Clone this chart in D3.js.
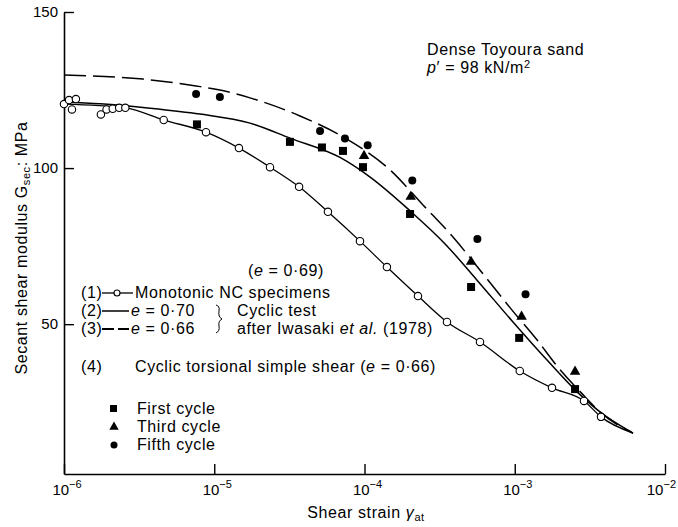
<!DOCTYPE html>
<html>
<head>
<meta charset="utf-8">
<script src="https://cdn.jsdelivr.net/npm/d3@7"></script>
<style>
  body { margin: 0; background: #fff; }
  svg text { font-family: "Liberation Sans", Arial, sans-serif; font-size: 16px; letter-spacing: 0.6px; fill: #000; }
  svg text.tk { font-size: 15px; letter-spacing: 0; }
</style>
</head>
<body>
<script>
// [shear strain, G_sec (MPa)]
const monotonicPts = [[1e-6,120.5],[1.08e-6,121.8],[1.2e-6,122.1],[1.13e-6,118.8],[1.76e-6,117.2],
  [1.92e-6,118.8],[2.11e-6,119.0],[2.33e-6,119.3],[2.56e-6,119.3],[4.61e-6,115.4],[8.81e-6,111.5],
  [1.46e-5,106.4],[2.35e-5,100.3],[3.67e-5,94.0],[5.71e-5,86.0],[9.33e-5,76.6],[1.41e-4,68.3],
  [2.27e-4,59.0],[3.54e-4,50.7],[5.87e-4,44.3],[1.08e-3,35.0],[1.77e-3,29.6],[2.89e-3,25.4],[3.75e-3,20.3]];
const monotonicCurve = [[1e-6,120.5],[2.56e-6,119.3],[4.61e-6,115.4],[8.81e-6,111.5],[1.46e-5,106.4],
  [2.35e-5,100.3],[3.67e-5,94.0],[5.71e-5,86.0],[9.33e-5,76.6],[1.41e-4,68.3],[2.27e-4,59.0],
  [3.54e-4,50.7],[5.87e-4,44.3],[1.08e-3,35.0],[1.77e-3,29.6],[2.89e-3,25.4],[3.75e-3,20.3],[6.12e-3,15.1]];
const cyclic070 = [[1e-6,121.2],[1.74e-6,120.6],[3.73e-6,119.2],[8.03e-6,117.3],[1.73e-5,114.4],
  [3.19e-5,109.6],[6.87e-5,103.4],[1.09e-4,97.1],[2.01e-4,86.3],[3.44e-4,75.7],[5.61e-4,64.1],
  [9.73e-4,50.7],[1.64e-3,38.5],[2.6e-3,28.3],[3.69e-3,21.9],[6.12e-3,15.1]];
const cyclic066 = [[1e-6,129.8],[3.36e-6,128.5],[7.57e-6,126.3],[1.09e-5,125.0],[1.73e-5,122.5],
  [3.72e-5,116.7],[7.19e-5,110.0],[1.48e-4,99.4],[2.45e-4,88.2],[3.88e-4,77.9],[6.15e-4,66.1],
  [9.59e-4,54.5],[1.41e-3,44.9],[1.91e-3,36.6],[2.94e-3,26.7],[3.69e-3,21.9],[6.12e-3,15.1]];
const firstCycle = [[7.67e-6,114.0],[3.19e-5,108.4],[5.21e-5,106.6],[7.19e-5,105.5],[9.77e-5,100.3],
  [2.01e-4,85.3],[5.12e-4,61.9],[1.07e-3,45.6],[2.52e-3,29.2]];
const thirdCycle = [[9.93e-5,103.9],[2.03e-4,90.8],[5.12e-4,70.0],[1.11e-3,52.4],[2.52e-3,34.8]];
const fifthCycle = [[7.57e-6,123.7],[1.09e-5,122.8],[5.06e-5,111.9],[7.41e-5,109.5],[1.05e-4,107.3],
  [2.08e-4,96.0],[5.64e-4,77.3],[1.18e-3,59.6]];

const xTicks = [1e-6, 1e-5, 1e-4, 1e-3, 1e-2];
const xTickExp = ["\u22126", "\u22125", "\u22124", "\u22123", "\u22122"];
const yTicks = [50, 100, 150];

const W = 678, H = 527;
const svg = d3.select("body").append("svg").attr("width", W).attr("height", H);

const x = d3.scaleLog().domain([1e-6, 1e-2]).range([64, 665]);
const y = d3.scaleLinear().domain([2, 150]).range([474, 12]);

// axes
svg.append("g").attr("transform", "translate(0,474)")
  .call(d3.axisBottom(x).tickValues(xTicks).tickSize(-10).tickSizeOuter(0).tickFormat(""));
const gy = svg.append("g").attr("transform", "translate(64,0)")
  .call(d3.axisLeft(y).tickValues(yTicks).tickSize(-10).tickSizeOuter(0).tickPadding(6));
gy.selectAll(".tick text").attr("class", "tk").attr("font-family", null).attr("font-size", null);
gy.attr("font-family", null).attr("font-size", null);
svg.selectAll(".domain").attr("stroke-width", 1.6);
svg.selectAll(".tick line").attr("stroke-width", 1.4);

xTicks.forEach((t, i) => {
  const last = i === xTicks.length - 1;
  const lab = svg.append("text").attr("class", "tk")
    .attr("x", last ? 676 : x(t) + 3).attr("y", 495).attr("text-anchor", last ? "end" : "middle");
  lab.append("tspan").text("10");
  lab.append("tspan").attr("dy", -7).style("font-size", "11px").text(xTickExp[i]);
});

// axis titles
const xt = svg.append("text").attr("x", 366).attr("y", 518).attr("text-anchor", "middle");
xt.append("tspan").text("Shear strain ");
xt.append("tspan").style("font-style", "italic").text("\u03b3");
xt.append("tspan").attr("dy", 3).style("font-size", "11px").text("at");

const yt = svg.append("text").attr("transform", "translate(27,248) rotate(-90)").attr("text-anchor", "middle");
yt.append("tspan").text("Secant shear modulus G");
yt.append("tspan").attr("dy", 3).style("font-size", "11px").text("sec");
yt.append("tspan").attr("dy", -3).text(": MPa");

// curves
const line = d3.line().x(d => x(d[0])).y(d => y(d[1])).curve(d3.curveMonotoneX);
svg.append("path").attr("d", line(monotonicCurve)).attr("fill", "none").attr("stroke", "#000").attr("stroke-width", 1.3);
svg.append("path").attr("d", line(cyclic070)).attr("fill", "none").attr("stroke", "#000").attr("stroke-width", 1.5);
svg.append("path").attr("d", line(cyclic066)).attr("fill", "none").attr("stroke", "#000").attr("stroke-width", 1.5)
  .attr("stroke-dasharray", "22,7");

// points
svg.append("g").selectAll("circle").data(monotonicPts).join("circle")
  .attr("cx", d => x(d[0])).attr("cy", d => y(d[1])).attr("r", 3.7)
  .attr("fill", "#fff").attr("stroke", "#000").attr("stroke-width", 1.1);
svg.append("g").selectAll("rect").data(firstCycle).join("rect")
  .attr("x", d => x(d[0]) - 4).attr("y", d => y(d[1]) - 4).attr("width", 8).attr("height", 8).attr("fill", "#000");
const tri = d3.symbol().type(d3.symbolTriangle).size(48);
svg.append("g").selectAll("path").data(thirdCycle).join("path")
  .attr("d", tri).attr("transform", d => `translate(${x(d[0])},${y(d[1])})`).attr("fill", "#000");
svg.append("g").selectAll("circle").data(fifthCycle).join("circle")
  .attr("cx", d => x(d[0])).attr("cy", d => y(d[1])).attr("r", 4).attr("fill", "#000");

// annotation
svg.append("text").attr("x", 427).attr("y", 55).text("Dense Toyoura sand");
const pt = svg.append("text").attr("x", 427).attr("y", 73);
pt.append("tspan").style("font-style", "italic").text("p");
pt.append("tspan").text("\u2032 = 98 kN/m");
pt.append("tspan").attr("dy", -5).style("font-size", "11px").text("2");

// legend
function eText(xp, yp, rest) {
  const t = svg.append("text").attr("x", xp).attr("y", yp);
  t.append("tspan").style("font-style", "italic").text("e");
  t.append("tspan").text(rest);
  return t;
}
const t69 = svg.append("text").attr("x", 248).attr("y", 276);
t69.append("tspan").text("(");
t69.append("tspan").style("font-style", "italic").text("e");
t69.append("tspan").text(" = 0\u00b769)");

svg.append("text").attr("x", 81).attr("y", 298).text("(1)");
svg.append("line").attr("x1", 102).attr("x2", 133).attr("y1", 293).attr("y2", 293).attr("stroke", "#000").attr("stroke-width", 1.3);
svg.append("circle").attr("cx", 117).attr("cy", 293).attr("r", 3).attr("fill", "#fff").attr("stroke", "#000").attr("stroke-width", 1.1);
svg.append("text").attr("x", 135).attr("y", 298).text("Monotonic NC specimens");

svg.append("text").attr("x", 81).attr("y", 316).text("(2)");
svg.append("line").attr("x1", 102).attr("x2", 129).attr("y1", 311).attr("y2", 311).attr("stroke", "#000").attr("stroke-width", 1.5);
eText(131, 316, " = 0\u00b770");
svg.append("text").attr("x", 237).attr("y", 316).text("Cyclic test");

svg.append("text").attr("x", 81).attr("y", 334).text("(3)");
svg.append("line").attr("x1", 102).attr("x2", 129).attr("y1", 329).attr("y2", 329).attr("stroke", "#000").attr("stroke-width", 2)
  .attr("stroke-dasharray", "12,4");
eText(131, 334, " = 0\u00b766");
const iw = svg.append("text").attr("x", 237).attr("y", 334);
iw.append("tspan").text("after Iwasaki ");
iw.append("tspan").style("font-style", "italic").text("et al.");
iw.append("tspan").text(" (1978)");

svg.append("path").attr("d", "M216,305 q4,1 3,6 q-1,6 3,8 q-4,2 -3,7 q1,5 -3,7")
  .attr("fill", "none").attr("stroke", "#000").attr("stroke-width", 1);

svg.append("text").attr("x", 81).attr("y", 372).text("(4)");
const t4 = svg.append("text").attr("x", 135).attr("y", 372);
t4.append("tspan").text("Cyclic torsional simple shear (");
t4.append("tspan").style("font-style", "italic").text("e");
t4.append("tspan").text(" = 0\u00b766)");

const legMarks = [["First cycle", "square"], ["Third cycle", "triangle"], ["Fifth cycle", "circle"]];
legMarks.forEach((m, i) => {
  const yy = 414 + i * 18;
  if (m[1] === "square") svg.append("rect").attr("x", 110).attr("y", yy - 9).attr("width", 7).attr("height", 7).attr("fill", "#000");
  if (m[1] === "triangle") svg.append("path").attr("d", d3.symbol().type(d3.symbolTriangle).size(38)).attr("transform", `translate(114,${yy - 5})`).attr("fill", "#000");
  if (m[1] === "circle") svg.append("circle").attr("cx", 114).attr("cy", yy - 5).attr("r", 3.5).attr("fill", "#000");
  svg.append("text").attr("x", 137).attr("y", yy).text(m[0]);
});
</script>
</body>
</html>
